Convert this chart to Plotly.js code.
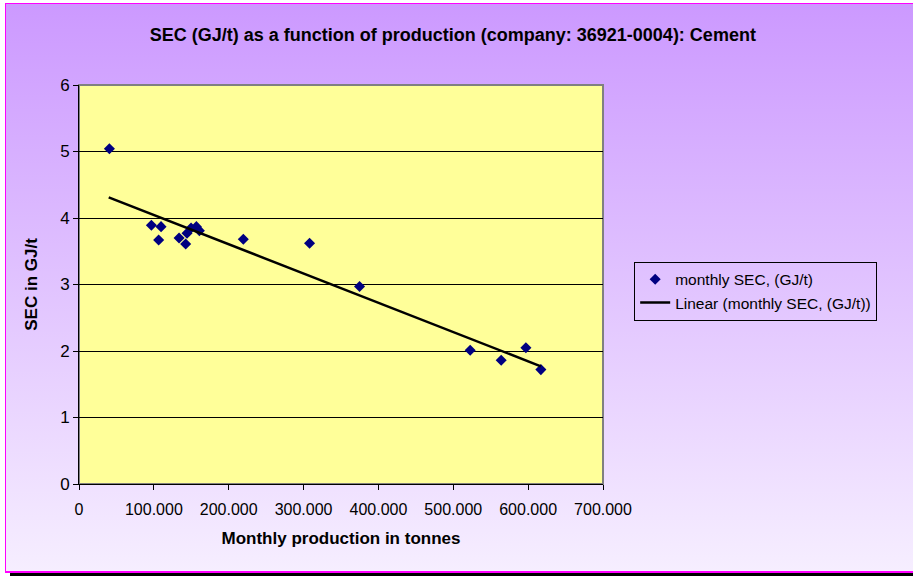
<!DOCTYPE html>
<html>
<head>
<meta charset="utf-8">
<script src="https://cdn.plot.ly/plotly-3.0.1.min.js"></script>
<style>
html,body{margin:0;padding:0;width:913px;height:576px;overflow:hidden;background:#ffffff;}
#bg{position:absolute;left:5px;top:3px;width:920px;height:567px;border-left:1.5px solid #ff00ff;border-top:1.5px solid #ff00ff;border-bottom:2px solid #ff00ff;background:linear-gradient(to bottom,#cc99ff 0%,#f6eeff 100%);}
#shadow{position:absolute;left:10px;top:573px;width:910px;height:4px;background:#000;}
#chart{position:absolute;left:0;top:0;width:913px;height:576px;}
</style>
</head>
<body>
<div id="bg"></div>
<div id="shadow"></div>
<div id="chart"></div>
<script>
// Monthly production (tonnes) and SEC (GJ/t)
var production = [40600, 96700, 109600, 106400, 133700, 142500, 144300, 149700, 156800, 160800, 219500, 308000, 374800, 522600, 564000, 597000, 617000];
var sec = [5.04, 3.89, 3.87, 3.67, 3.70, 3.61, 3.77, 3.85, 3.87, 3.81, 3.68, 3.62, 2.97, 2.01, 1.86, 2.05, 1.72];
// Linear trendline endpoints
var trendX = [39700, 617000];
var trendY = [4.31, 1.77];
var xTicks = [0, 100000, 200000, 300000, 400000, 500000, 600000, 700000];
var yTicks = [0, 1, 2, 3, 4, 5, 6];

var font = 'Liberation Sans, Arial, sans-serif';
var traces = [
  {x: production, y: sec, type: 'scatter', mode: 'markers', name: 'monthly SEC, (GJ/t)',
   marker: {symbol: 'diamond', size: 8.5, color: '#000080'}},
  {x: trendX, y: trendY, type: 'scatter', mode: 'lines', name: 'Linear (monthly SEC, (GJ/t))',
   line: {color: '#000000', width: 2.5}}
];
var layout = {
  width: 913, height: 576,
  paper_bgcolor: 'rgba(0,0,0,0)', plot_bgcolor: '#ffff99',
  separators: ',.',
  margin: {l: 78.6, r: 310.2, t: 85.3, b: 91.7, pad: 0},
  font: {family: font, size: 16, color: '#000'},
  title: {text: '<b>SEC (GJ/t) as a function of production (company: 36921-0004): Cement</b>',
          x: 0.496, xref: 'container', y: 0.94, yref: 'container', xanchor: 'center', yanchor: 'middle',
          font: {family: font, size: 18, color: '#000'}},
  xaxis: {range: [0, 700000], tickvals: xTicks, tickformat: ',d', showgrid: false, zeroline: false,
          showline: true, linecolor: '#000', linewidth: 1, mirror: false,
          ticks: 'outside', ticklen: 5, tickcolor: '#000', tickfont: {size: 16}, ticklabelstandoff: 6,
          title: {text: '<b>Monthly production in tonnes</b>', font: {size: 17}, standoff: 14}},
  yaxis: {range: [0, 6], tickvals: yTicks, showgrid: true, gridcolor: '#000', gridwidth: 1, zeroline: false,
          showline: true, linecolor: '#000', linewidth: 1,
          ticks: 'outside', ticklen: 5, tickcolor: '#000', tickfont: {size: 17},
          title: {text: '<b>SEC in GJ/t</b>', font: {size: 17}, standoff: 18}},
  shapes: [
    {type: 'rect', xref: 'paper', yref: 'paper', x0: 0, x1: 1, y0: 0, y1: 1,
     line: {color: '#808080', width: 2}, fillcolor: 'rgba(0,0,0,0)', layer: 'below'}
  ],
  legend: {x: 1.0595, y: 0.557, xanchor: 'left', yanchor: 'top', xref: 'paper', yref: 'paper',
           bgcolor: 'rgba(0,0,0,0)', bordercolor: '#000', borderwidth: 1,
           font: {size: 15.5}, tracegroupgap: 0, itemwidth: 30},
  showlegend: true
};
Plotly.newPlot('chart', traces, layout, {displayModeBar: false, staticPlot: true});
</script>
</body>
</html>
